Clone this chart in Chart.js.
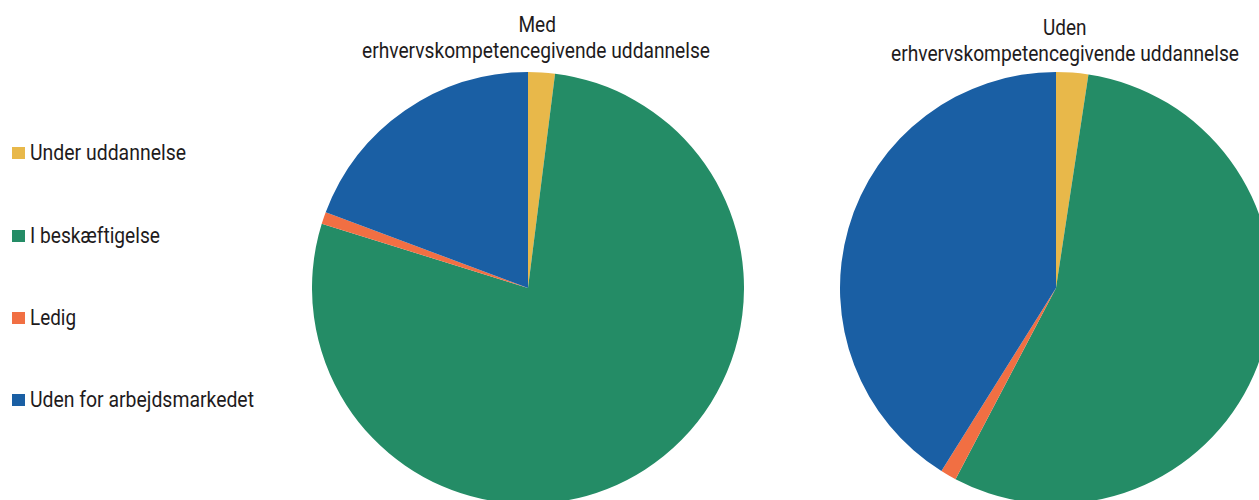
<!DOCTYPE html>
<html>
<head>
<meta charset="utf-8">
<script src="https://cdn.jsdelivr.net/npm/chart.js@4.4.1/dist/chart.umd.min.js"></script>
<style>
  html, body { margin: 0; padding: 0; background: #ffffff; }
  body { width: 1259px; height: 500px; overflow: hidden; position: relative;
         font-family: Roboto, "Open Sans", "Liberation Sans", sans-serif; color: #1e1b1c; }
  .pie { position: absolute; width: 432px; height: 432px; }
  .txt { position: absolute; white-space: nowrap; font-size: 21.5px; line-height: 26px; font-weight: 400; }
  .title { text-align: center; transform-origin: 50% 50%; }
  .leg { transform-origin: 0 50%; }
  .sw { position: absolute; width: 13px; height: 12px; }
</style>
</head>
<body>
<div class="pie" id="wrapMed" style="left:312px; top:72px;"><canvas id="cMed"></canvas></div>
<div class="pie" id="wrapUden" style="left:839.5px; top:72px;"><canvas id="cUden"></canvas></div>
<div id="texts"></div>
<script>
// ---- data ----
const categories = ['Under uddannelse', 'I beskæftigelse', 'Ledig', 'Uden for arbejdsmarkedet'];
const medValues  = [2.0, 77.8, 0.9, 19.3];
const udenValues = [2.4, 55.3, 1.2, 41.1];
const medTitle  = ['Med', 'erhvervskompetencegivende uddannelse'];
const udenTitle = ['Uden', 'erhvervskompetencegivende uddannelse'];
const colors = ['#e8b84a', '#248c66', '#f16f43', '#1a5fa4'];

function makePie(id, values) {
  return new Chart(document.getElementById(id), {
    type: 'pie',
    data: {
      labels: categories,
      datasets: [{ data: values, backgroundColor: colors, borderWidth: 0 }]
    },
    options: {
      responsive: true,
      maintainAspectRatio: false,
      animation: false,
      layout: { padding: 0 },
      plugins: { legend: { display: false }, tooltip: { enabled: false } }
    }
  });
}
makePie('cMed', medValues);
makePie('cUden', udenValues);

// ---- text (titles + legend) ----
const texts = document.getElementById('texts');
function addText(str, cls, x, baseline, targetW, align) {
  const d = document.createElement('div');
  d.className = 'txt ' + cls;
  d.textContent = str;
  texts.appendChild(d);
  const w = d.getBoundingClientRect().width;
  const k = targetW / w;
  d.style.top = (baseline - 20.5) + 'px';
  if (align === 'center') {
    d.style.left = (x - w / 2) + 'px';
  } else {
    d.style.left = x + 'px';
  }
  d.style.transform = 'scaleX(' + k + ')';
  return d;
}
// titles
addText(medTitle[0], 'title', 537, 32.3, 37.5, 'center');
addText(medTitle[1], 'title', 536, 58.5, 348, 'center');
addText(udenTitle[0], 'title', 1065, 35, 43.5, 'center');
addText(udenTitle[1], 'title', 1065, 61, 348, 'center');
// legend
const legBase = [160.7, 243, 325, 407.7];
const legW = [156, 130, 46, 224];
categories.forEach((c, i) => {
  const sw = document.createElement('div');
  sw.className = 'sw';
  sw.style.left = '12px';
  sw.style.top = (legBase[i] - 13.4) + 'px';
  sw.style.background = colors[i];
  texts.appendChild(sw);
  addText(c, 'leg', 30, legBase[i], legW[i], 'left');
});
</script>
</body>
</html>
